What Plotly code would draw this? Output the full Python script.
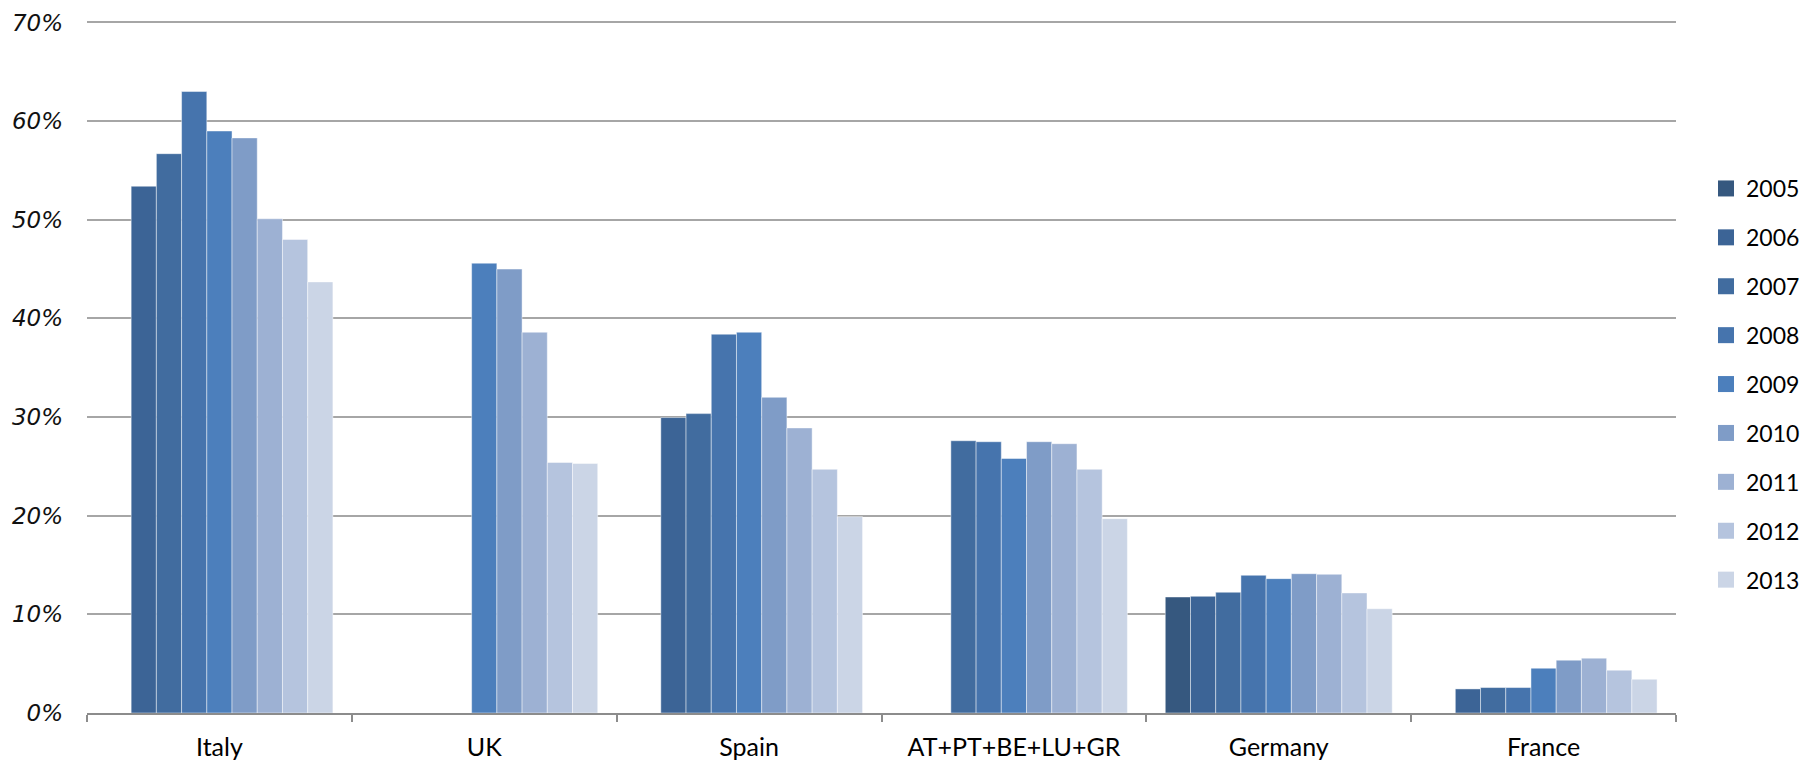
import plotly.graph_objects as go

categories = ["Italy", "UK", "Spain", "AT+PT+BE+LU+GR", "Germany", "France"]
years = ["2005", "2006", "2007", "2008", "2009", "2010", "2011", "2012", "2013"]

# values in percent, per country, one per year (None = no bar)
italy   = [None, 53.4, 56.7, 63.0, 59.0, 58.3, 50.1, 48.0, 43.7]
uk      = [None, None, None, None, 45.6, 45.0, 38.6, 25.4, 25.3]
spain   = [None, 29.95, 30.35, 38.4, 38.6, 32.0, 28.9, 24.7, 19.9]
at_grp  = [None, None, 27.6, 27.5, 25.8, 27.5, 27.3, 24.7, 19.7]
germany = [11.76, 11.83, 12.24, 13.96, 13.62, 14.12, 14.06, 12.17, 10.57]
france  = [None, 2.44, 2.58, 2.58, 4.54, 5.36, 5.56, 4.34, 3.42]

colors = ["#36587f", "#3c6496", "#416c9f", "#4674ad", "#4c7fbc",
          "#7f9cc7", "#9db1d3", "#b5c4de", "#cbd5e6"]

countries = [italy, uk, spain, at_grp, germany, france]

fig = go.Figure()
for i, yr in enumerate(years):
    vals = [c[i] for c in countries]
    fig.add_trace(go.Bar(
        x=categories, y=vals, name=yr,
        marker=dict(color=colors[i], line=dict(color="rgba(255,255,255,0.45)", width=1)),
        showlegend=False,
    ))
    # legend entry (square marker)
    fig.add_trace(go.Scatter(
        x=[None], y=[None], mode="markers", name=yr,
        marker=dict(symbol="square", size=16, color=colors[i]),
        legendgroup=yr, showlegend=True,
    ))

W, H = 1802, 762
L, R, T, B = 87, 126, 21, 49
PW, PH = W - L - R, H - T - B

fig.update_layout(
    width=W, height=H,
    margin=dict(l=L, r=R, t=T, b=B, autoexpand=False),
    paper_bgcolor="white", plot_bgcolor="white",
    barmode="group", bargap=0.143, bargroupgap=0,
    font=dict(family="Lato", size=24, color="#000000"),
    legend=dict(
        x=1.0 + (1706 - (W - R)) / PW, xanchor="left",
        y=(H - B - 167) / PH, yanchor="top",
        font=dict(family="Lato", size=23, color="#000000"),
        tracegroupgap=16, itemsizing="trace",
        bgcolor="rgba(0,0,0,0)",
    ),
    xaxis=dict(
        type="category", categoryorder="array", categoryarray=categories,
        showline=True, linecolor="#8c8c8c", linewidth=2,
        ticks="outside", tickson="boundaries", ticklen=7, tickcolor="#8c8c8c", tickwidth=2,
        showgrid=False, tickfont=dict(family="Lato", size=25, color="#000000"),
        ticklabelstandoff=11,
        fixedrange=True,
    ),
    yaxis=dict(
        range=[0, 70.15], dtick=10, ticksuffix="%",
        showgrid=True, gridcolor="#a6a6a6", gridwidth=1.5,
        showline=False, zeroline=False, ticks="",
        ticklabelstandoff=23,
        tickfont=dict(family="DejaVu Sans", size=23, color="#111111", style="italic"),
        fixedrange=True,
    ),
)

fig.write_html(
    "out.html",
    config={"displayModeBar": False},
    post_script="document.body.style.margin='0';document.body.style.overflow='hidden';",
)
